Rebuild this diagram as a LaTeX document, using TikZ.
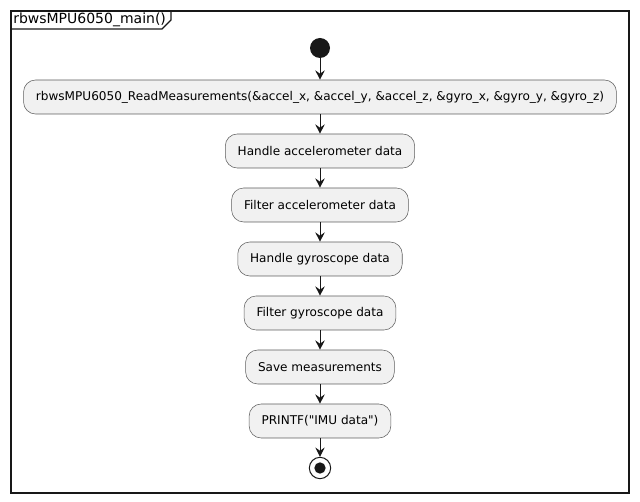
\documentclass[tikz,border=0pt]{standalone}
\usepackage{fontspec}
\setmainfont{DejaVu Sans}[Ligatures=TeXOff]
\usetikzlibrary{arrows.meta,positioning}
\definecolor{ink}    {HTML}{181818}
\definecolor{actfill}{HTML}{F1F1F1}
\tikzset{
  actbox/.style   ={draw=ink!70, fill=actfill, line width=0.4pt, rounded corners=9pt,
                    minimum height=25.5pt, inner xsep=9.3pt, font=\fontsize{9.05}{11}\selectfont},
  startdot/.style ={circle, fill=ink, minimum size=15pt, inner sep=0pt},
  stopdot/.style  ={circle, draw=ink, line width=0.75pt, fill=white, minimum size=16pt, inner sep=0pt},
  flowarr/.style  ={-{Stealth[length=7pt,width=7pt,inset=2.5pt]}, line width=0.75pt, color=ink},
}
\begin{document}
\begin{tikzpicture}[x=0.75pt,y=-0.75pt]
    \useasboundingbox (0,0) rectangle (640,502);
    % frame
    \draw[ink,line width=1.1pt] (11,11) rectangle (629,493);
    \draw[ink,line width=0.8pt] (11,29) -- (162,29) -- (171,20) -- (171,11);
    \node[anchor=west,inner sep=0pt,font=\fontsize{10.5}{12}\selectfont] (frm) at (13,20) {rbwsMPU6050\_main()};

    \node[startdot] (start) at (320,48) {};
    \node[actbox] (read)  at (320,97)  {rbwsMPU6050\_ReadMeasurements(\&accel\_x, \&accel\_y, \&accel\_z, \&gyro\_x, \&gyro\_y, \&gyro\_z)};
    \node[actbox] (hacc)  at (320,151) {Handle accelerometer data};
    \node[actbox] (facc)  at (320,205) {Filter accelerometer data};
    \node[actbox] (hgyr)  at (320,259) {Handle gyroscope data};
    \node[actbox] (fgyr)  at (320,313) {Filter gyroscope data};
    \node[actbox] (save)  at (320,367) {Save measurements};
    \node[actbox] (prnt)  at (320,421) {PRINTF("IMU data")};
    \node[stopdot] (stop) at (320,468) {};
    \node[circle, fill=ink, minimum size=8.5pt, inner sep=0pt] (stopin) at (stop) {};

    \draw[flowarr] (start) -- (read);
    \draw[flowarr] (read)  -- (hacc);
    \draw[flowarr] (hacc)  -- (facc);
    \draw[flowarr] (facc)  -- (hgyr);
    \draw[flowarr] (hgyr)  -- (fgyr);
    \draw[flowarr] (fgyr)  -- (save);
    \draw[flowarr] (save)  -- (prnt);
    \draw[flowarr] (prnt)  -- (stop);
  \end{tikzpicture}
\end{document}
